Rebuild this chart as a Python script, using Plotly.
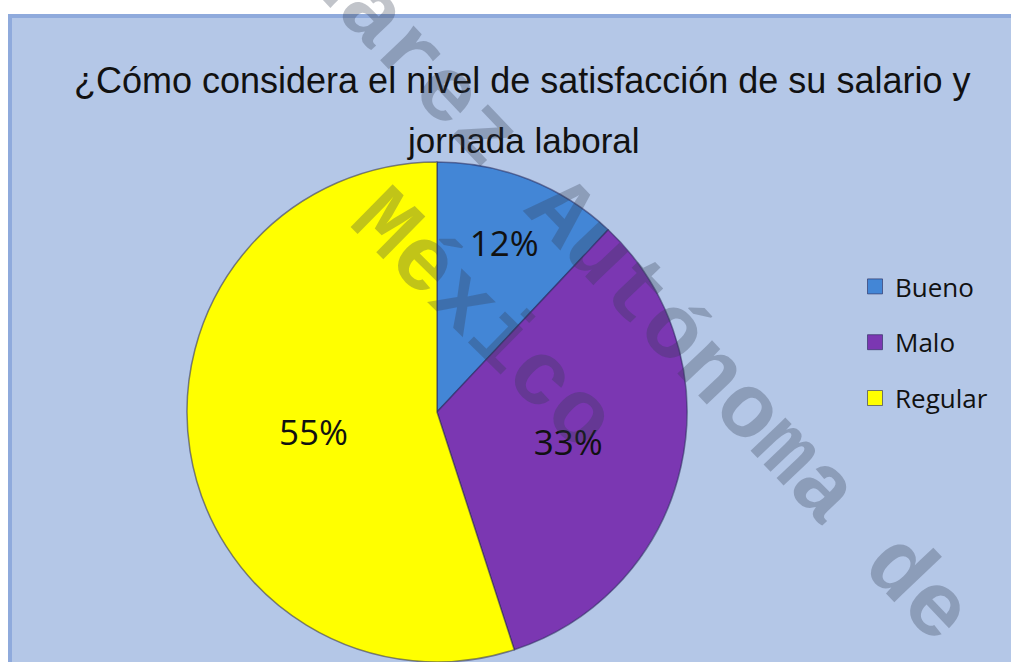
import plotly.graph_objects as go

# ---- data ----
labels = ["Bueno", "Malo", "Regular"]
values = [12, 33, 55]
colors = ["#4386D6", "#7B37B2", "#FFFF00"]
title_line1 = "¿Cómo considera el nivel de satisfacción de su salario y"
title_line2 = "jornada laboral"
watermark_line1 = "Juárez Autónoma de"
watermark_line2 = "México"

W, H = 1011, 662

fig = go.Figure()

fig.add_trace(go.Pie(
    labels=labels,
    values=values,
    marker=dict(colors=colors, line=dict(color="rgba(40,40,90,0.55)", width=1.5)),
    sort=False,
    direction="clockwise",
    rotation=0,
    textinfo="percent",
    texttemplate="%{percent:.0%}",
    textposition="inside",
    insidetextorientation="horizontal",
    textfont=dict(family="Open Sans", size=35, color="#111111"),
    domain=dict(x=[187 / W, 687 / W], y=[0, 500 / H]),
    showlegend=False,
    hoverinfo="label+percent",
))

# legend proxies (one per category, so spacing can be controlled)
for lab, col in zip(labels, colors):
    fig.add_trace(go.Scatter(
        x=[None], y=[None], mode="markers", name=lab, legendgroup=lab,
        marker=dict(symbol="square", size=15, color=col,
                    line=dict(color="rgba(40,40,90,0.6)", width=1)),
        showlegend=True, hoverinfo="skip",
    ))

wm_color = "rgba(50,60,80,0.30)"

fig.update_layout(
    width=W, height=H,
    margin=dict(l=0, r=0, t=0, b=0),
    paper_bgcolor="white",
    plot_bgcolor="rgba(0,0,0,0)",
    xaxis=dict(visible=False),
    yaxis=dict(visible=False),
    showlegend=True,
    legend=dict(
        x=855 / W, y=1 - 263 / H, xanchor="left", yanchor="top",
        bgcolor="rgba(0,0,0,0)",
        font=dict(family="Open Sans", size=26, color="#111111"),
        tracegroupgap=19,
        itemclick=False, itemdoubleclick=False,
    ),
    shapes=[dict(
        type="rect", xref="paper", yref="paper", layer="below",
        x0=10 / W, x1=1.05, y0=-0.05, y1=1 - 16 / H,
        fillcolor="#B4C7E7", line=dict(color="#8FAADC", width=4),
    )],
    annotations=[
        dict(text=title_line1, x=522 / W, y=1 - 80 / H, xref="paper", yref="paper",
             xanchor="center", yanchor="middle", showarrow=False,
             font=dict(family="Liberation Sans", size=36, color="#111111")),
        dict(text=title_line2, x=523 / W, y=1 - 140 / H, xref="paper", yref="paper",
             xanchor="center", yanchor="middle", showarrow=False,
             font=dict(family="Liberation Sans", size=35, color="#111111")),
        dict(text="<b>" + watermark_line1 + "</b>", x=615 / W, y=1 - 273 / H,
             xref="paper", yref="paper", xanchor="center", yanchor="middle",
             showarrow=False, textangle=46.5,
             font=dict(family="Liberation Mono", size=91, color=wm_color)),
        dict(text="<b>" + watermark_line2 + "</b>", x=482 / W, y=1 - 321 / H,
             xref="paper", yref="paper", xanchor="center", yanchor="middle",
             showarrow=False, textangle=44.5,
             font=dict(family="Liberation Mono", size=91, color=wm_color)),
    ],
)

fig.write_html(
    "out.html",
    config={"displayModeBar": False},
    post_script="document.body.style.margin='0px';document.body.style.overflow='hidden';",
)
